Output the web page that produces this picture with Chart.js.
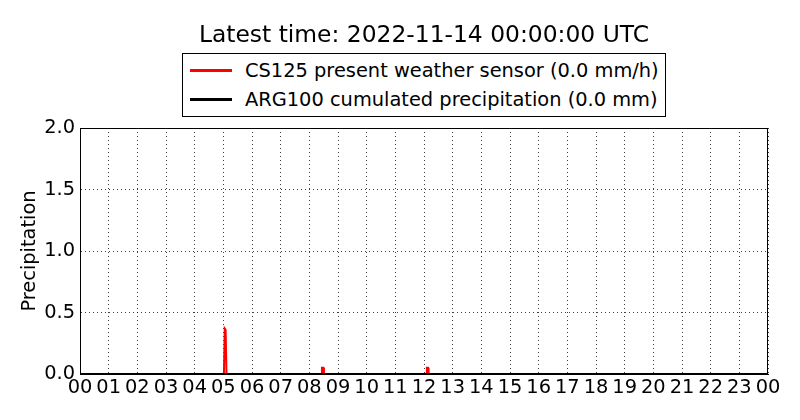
<!DOCTYPE html>
<html>
<head>
<meta charset="utf-8">
<script src="https://cdn.jsdelivr.net/npm/chart.js@4"></script>
<style>
  body { margin: 0; background: #fff; font-family: "DejaVu Sans", sans-serif; }
  #wrap { position: relative; width: 800px; height: 420px; }
  #titel { position: absolute; left: 0; width: 848px; top: 20px; line-height: 28px; text-align: center; font-size: 23.4px; color: #000; }
  #legenda { position: absolute; left: 182px; top: 53px; width: 482px; height: 62px; border: 1px solid #000; background: #fff; }
  .item { position: absolute; left: 0; height: 29px; font-size: 19.4px; line-height: 29px; white-space: nowrap; }
  .item .lijn { position: absolute; left: 7px; top: 13px; width: 42px; height: 3px; }
  .item span.txt { position: absolute; left: 62px; }
</style>
</head>
<body>
<div id="wrap">
  <canvas id="grafiek" width="800" height="420"></canvas>
  <div id="titel">Latest time: 2022-11-14 00:00:00 UTC</div>
  <div id="legenda"></div>
</div>
<script>
// uren sinds middernacht en neerslag
const regenTijden = [0, 5.02, 5.05, 5.08, 5.11, 8.41, 8.44, 8.49, 8.51, 12.08, 12.10, 12.14, 12.16, 24];
const regenWaarden = [0, 0, 0.37, 0.36, 0, 0, 0.05, 0.05, 0, 0, 0.05, 0.05, 0, 0];
const somTijden = [0, 24];
const somWaarden = [0, 0];
const yTicks = [0, 0.5, 1.0, 1.5, 2.0];
const series = [
  { naam: 'CS125 present weather sensor (0.0 mm/h)', kleur: '#ff0000' },
  { naam: 'ARG100 cumulated precipitation (0.0 mm)', kleur: '#000000' },
];

function punten(tijden, waarden) {
  return tijden.map((t, i) => ({ x: t, y: waarden[i] }));
}

function vulLegenda() {
  const box = document.getElementById('legenda');
  series.forEach((s, i) => {
    const el = document.createElement('div');
    el.className = 'item';
    el.style.top = (2 + i * 29) + 'px';
    el.innerHTML = `<span class="lijn" style="background:${s.kleur}"></span><span class="txt">${s.naam}</span>`;
    box.appendChild(el);
  });
}

const kader = {
  id: 'kader',
  afterDraw(chart) {
    const { ctx, chartArea: a } = chart;
    ctx.save();
    ctx.strokeStyle = '#000';
    ctx.lineWidth = 1;
    ctx.strokeRect(a.left + 0.5, a.top + 0.5, a.right - a.left - 1, a.bottom - a.top);
    ctx.restore();
  }
};

const rooster = { color: 'rgba(0,0,0,0.75)', lineWidth: 1, drawTicks: false };
const tickFont = { family: 'DejaVu Sans', size: 19.4 };

new Chart(document.getElementById('grafiek'), {
  type: 'line',
  data: {
    datasets: [
      { label: series[0].naam, data: punten(regenTijden, regenWaarden), borderColor: series[0].kleur, borderWidth: 2, pointRadius: 0, tension: 0, order: 2 },
      { label: series[1].naam, data: punten(somTijden, somWaarden), borderColor: series[1].kleur, borderWidth: 2, pointRadius: 0, tension: 0, order: 1 },
    ]
  },
  options: {
    responsive: false,
    animation: false,
    layout: { padding: { top: 128, right: 32, bottom: 0, left: 0 } },
    plugins: { legend: { display: false }, title: { display: false }, tooltip: { enabled: false } },
    scales: {
      x: {
        type: 'linear', min: 0, max: 24,
        afterFit: s => { s.height = 46; },
        ticks: {
          stepSize: 1, color: '#000', font: tickFont, padding: 2, autoSkip: false, maxRotation: 0,
          callback: v => String(v % 24).padStart(2, '0')
        },
        grid: rooster,
        border: { display: true, color: '#000', dash: [1, 3] }
      },
      y: {
        min: 0, max: 2,
        afterFit: s => { s.width = 80; },
        afterBuildTicks: s => { s.ticks = yTicks.map(v => ({ value: v })); },
        ticks: { color: '#000', font: tickFont, padding: 5, callback: v => v.toFixed(1) },
        grid: rooster,
        border: { display: true, color: '#000', dash: [1, 3] },
        title: { display: true, text: 'Precipitation', color: '#000', font: { family: 'DejaVu Sans', size: 19.4 }, padding: { top: 18, bottom: 0 } }
      }
    }
  },
  plugins: [kader]
});

vulLegenda();
</script>
</body>
</html>
